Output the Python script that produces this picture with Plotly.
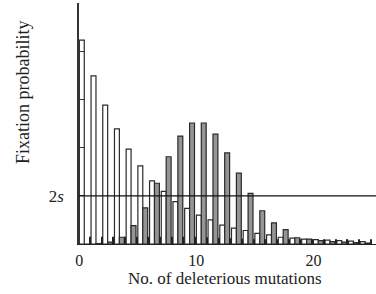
import plotly.graph_objects as go

k = list(range(25))
white_vals = [4.23, 3.49, 2.88, 2.39, 1.97, 1.62, 1.31, 1.09, 0.88, 0.74, 0.60, 0.50, 0.39,
              0.33, 0.28, 0.22, 0.19, 0.14, 0.12, 0.10, 0.09, 0.08, 0.07, 0.06, 0.05]
gray_vals = [0.0, 0.01, 0.04, 0.14, 0.38, 0.75, 1.26, 1.81, 2.24, 2.51, 2.51, 2.28, 1.89,
             1.47, 1.05, 0.69, 0.44, 0.30, 0.13, 0.10, 0.07, 0.05, 0.04, 0.03, 0.02]
black_vals = [0.15, 0.15, 0.15, 0.15, 0.15, 0.15, 0.15, 0.15, 0.15, 0.15, 0.14, 0.13, 0.12,
              0.11, 0.10, 0.10, 0.10, 0.10, 0.10, 0.10, 0.10, 0.10, 0.10, 0.10, 0.10]
two_s = 1.0
x_ticks = [0, 10, 20]
y_ticks = [0, 1, 2, 3, 4, 5]
y_ticktext = ["", "2<i>s</i>", "", "", "", ""]

FONT = "Liberation Serif"

fig = go.Figure()
fig.add_trace(go.Bar(x=k, y=white_vals, offset=0.0, width=0.42,
                     marker=dict(color="white", line=dict(color="#2a2a2a", width=1.2))))
fig.add_trace(go.Bar(x=k, y=gray_vals, offset=0.42, width=0.42,
                     marker=dict(color="#959595", line=dict(color="#2a2a2a", width=1.2))))
fig.add_trace(go.Bar(x=k, y=black_vals, offset=0.85, width=0.12,
                     marker=dict(color="#222", line=dict(width=0))))

fig.add_shape(type="line", xref="paper", x0=0, x1=1, yref="y", y0=two_s, y1=two_s,
              line=dict(color="#111", width=1.2))

fig.update_layout(
    width=376, height=294,
    margin=dict(l=79, r=0, t=3, b=50, autoexpand=False),
    paper_bgcolor="white", plot_bgcolor="white",
    barmode="overlay", showlegend=False,
    font=dict(family=FONT, size=17, color="#222"),
    xaxis=dict(range=[-0.03, 25.35], tickvals=x_ticks, ticks="", showgrid=False,
               zeroline=False, showline=True, linecolor="#222", linewidth=1.3,
               automargin=False, ticklabelstandoff=2,
               tickfont=dict(family=FONT, size=16, color="#222")),
    yaxis=dict(range=[0, 5], tickvals=y_ticks, ticktext=y_ticktext, ticks="inside",
               ticklen=5, tickcolor="#333", tickwidth=1, showgrid=False, zeroline=False,
               showline=True, linecolor="#333", linewidth=1.5, ticklabelstandoff=10,
               automargin=False,
               tickfont=dict(family=FONT, size=17, color="#222")),
    annotations=[
        dict(text="Fixation probability", xref="paper", yref="paper", x=-0.189, y=0.63,
             textangle=-90, showarrow=False, xanchor="center", yanchor="middle",
             font=dict(family=FONT, size=18, color="#222")),
        dict(text="No. of deleterious mutations", xref="paper", yref="paper", x=0.49, y=-0.145,
             showarrow=False, xanchor="center", yanchor="middle",
             font=dict(family=FONT, size=17, color="#222")),
    ],
)

fig.write_html("out.html", config={"displayModeBar": False},
               post_script="document.body.style.margin='0';document.body.style.overflow='hidden';")
